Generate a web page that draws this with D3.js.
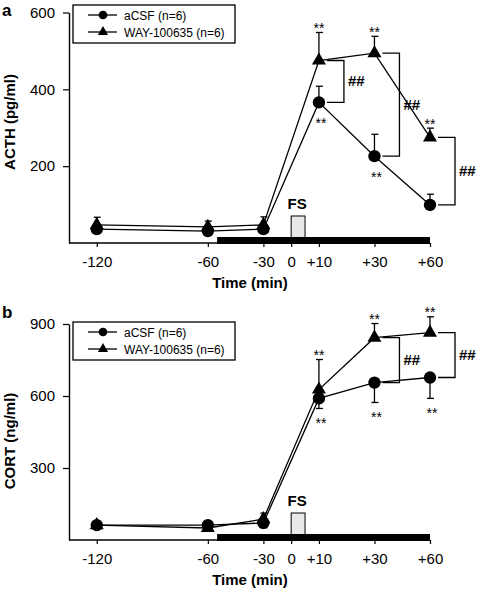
<!DOCTYPE html>
<html><head><meta charset="utf-8">
<script src="https://cdn.jsdelivr.net/npm/d3@7"></script>
<style>
html,body{margin:0;padding:0;background:#fff;}
svg text{font-family:"Liberation Sans",Arial,sans-serif;}
</style></head>
<body>
<svg id="chart" width="480" height="590"></svg>
<script>
// ---------- data ----------
const timepoints = [-120, -60, -30, 10, 30, 60];
const xTickValues = [-120, -60, -30, 0, 10, 30, 60];
const xTickLabels = ["-120", "-60", "-30", "0", "+10", "+30", "+60"];
const seriesNames = ["aCSF (n=6)", "WAY-100635 (n=6)"];

const acthACSF    = [36, 31, 36, 366, 226, 99];
const acthACSFErr = [10, 8, 8, 42, 57, 28];
const acthWAY     = [47, 42, 47, 475, 494, 275];
const acthWAYErr  = [20, 15, 21, 73, 44, 24];
const acthACSFSig = ["", "", "", "**", "**", ""];
const acthWAYSig  = ["", "", "", "**", "**", "**"];
const acthHash    = ["", "", "", "##", "##", "##"];
const acthTicks   = [200, 400, 600];

const cortACSF    = [62, 62, 71, 590, 656, 677];
const cortACSFErr = [10, 8, 20, 42, 83, 87];
const cortWAY     = [62, 50, 87, 627, 843, 864];
const cortWAYErr  = [14, 6, 25, 125, 59, 66];
const cortACSFSig = ["", "", "", "**", "**", "**"];
const cortWAYSig  = ["", "", "", "**", "**", "**"];
const cortHash    = ["", "", "", "", "##", "##"];
const cortTicks   = [300, 600, 900];

const wayStart = -55, wayEnd = 60;   // black infusion bar (min)
const fsStart = 0, fsEnd = 5;        // forced swim (min)

// ---------- layout ----------
const svg = d3.select("#chart");
const plotLeft = 69;
const slotIndex = [0, 4, 6, 7, 8, 10, 12];
const slotW = (430 - plotLeft) / 13;
const x = d3.scaleLinear()
  .domain(xTickValues)
  .range(slotIndex.map(s => plotLeft + (s + 1) * slotW));

function panel(cfg) {
  const g = svg.append("g");
  const y = d3.scaleLinear().domain([0, cfg.yMax]).range([cfg.y0, cfg.yTop]);
  const axisY = cfg.y0;

  // panel letter
  g.append("text").attr("x", 2).attr("y", cfg.letterY).text(cfg.letter)
    .attr("font-size", 17).attr("font-weight", "bold");

  // y axis
  const ya = g.append("g").attr("transform", `translate(${plotLeft},0)`)
    .call(d3.axisLeft(y).tickValues(cfg.ticks).tickSize(6).tickSizeOuter(0).tickPadding(8));
  ya.select(".domain").attr("stroke-width", 1.4);
  ya.selectAll(".tick line").attr("stroke-width", 1.2);
  ya.selectAll("text").attr("font-size", 15).attr("font-family", "Liberation Sans, Arial, sans-serif");

  // x axis
  const xa = g.append("g").attr("transform", `translate(0,${axisY})`)
    .call(d3.axisBottom(x).tickValues(xTickValues).tickFormat((d, i) => xTickLabels[i])
      .tickSize(4).tickSizeOuter(0).tickPadding(9));
  xa.select(".domain").remove();
  xa.selectAll(".tick line").attr("stroke-width", 1.2);
  xa.selectAll("text").attr("font-size", 15).attr("font-family", "Liberation Sans, Arial, sans-serif");
  g.append("line").attr("x1", plotLeft).attr("x2", x(60)).attr("y1", axisY).attr("y2", axisY)
    .attr("stroke", "#000").attr("stroke-width", 1.4);

  // axis titles
  g.append("text").attr("transform", `translate(15,${cfg.yTitleY}) rotate(-90)`)
    .attr("text-anchor", "middle").attr("font-size", 15).attr("font-weight", "bold").text(cfg.yTitle);
  g.append("text").attr("x", 250).attr("y", axisY + 45).attr("text-anchor", "middle")
    .attr("font-size", 15).attr("font-weight", "bold").text("Time (min)");

  // FS box
  g.append("rect").attr("x", x(fsStart)).attr("width", x(fsEnd) - x(fsStart))
    .attr("y", axisY - 27).attr("height", 27)
    .attr("fill", "#e8e8e8").attr("stroke", "#000").attr("stroke-width", 1);
  g.append("text").attr("x", (x(fsStart) + x(fsEnd)) / 2 - 1).attr("y", axisY - 34)
    .attr("text-anchor", "middle").attr("font-size", 15).attr("font-weight", "bold").text("FS");
  // infusion bar
  g.append("rect").attr("x", x(wayStart)).attr("width", x(wayEnd) - x(wayStart))
    .attr("y", axisY - 6).attr("height", 7).attr("fill", "#000");

  const series = [
    {vals: cfg.acsf, err: cfg.acsfErr, dir: cfg.acsfDir, sig: cfg.acsfSig, sym: d3.symbolCircle, size: 120, above: false},
    {vals: cfg.way, err: cfg.wayErr, dir: 1, sig: cfg.waySig, sym: d3.symbolTriangle, size: 85, above: true}
  ];
  const line = d3.line().x((d, i) => x(timepoints[i])).y(d => y(d));
  series.forEach(s => {
    g.append("path").datum(s.vals).attr("d", line).attr("fill", "none")
      .attr("stroke", "#000").attr("stroke-width", 1.3);
  });
  series.forEach(s => {
    s.vals.forEach((v, i) => {
      const cx = x(timepoints[i]);
      const ye = y(v + s.dir * s.err[i]);
      g.append("line").attr("x1", cx).attr("x2", cx).attr("y1", y(v)).attr("y2", ye)
        .attr("stroke", "#000").attr("stroke-width", 1.3);
      g.append("line").attr("x1", cx - 3).attr("x2", cx + 4).attr("y1", ye).attr("y2", ye)
        .attr("stroke", "#000").attr("stroke-width", 1.3);
    });
  });
  series.forEach(s => {
    g.selectAll(null).data(s.vals).enter().append("path")
      .attr("d", d3.symbol().type(s.sym).size(s.size))
      .attr("transform", (d, i) => `translate(${x(timepoints[i])},${y(d)})`)
      .attr("fill", "#000");
  });
  // significance stars
  series.forEach(s => {
    s.vals.forEach((v, i) => {
      if (!s.sig[i]) return;
      const cx = x(timepoints[i]);
      let by;
      if (s.above) {
        by = y(v + s.err[i]) + 0.5;
      } else {
        const low = Math.max(y(v) + 6, s.dir < 0 ? y(v - s.err[i]) : 0);
        by = low + 20;
      }
      g.append("text").attr("x", cx + (s.above ? 0 : 2)).attr("y", by).attr("text-anchor", "middle")
        .attr("font-size", 14).text(s.sig[i]);
    });
  });
  // ## brackets
  cfg.hash.forEach((h, i) => {
    if (!h) return;
    const cx = x(timepoints[i]);
    const y1 = y(cfg.way[i]), y2 = y(cfg.acsf[i]);
    const x1 = cx + 8, x2 = cx + 25;
    g.append("path").attr("d", `M${x1},${y1}H${x2}V${y2}H${x1}`)
      .attr("fill", "none").attr("stroke", "#000").attr("stroke-width", 1.3);
    g.append("text").attr("x", x2 + 4).attr("y", (y1 + y2) / 2 + 5)
      .attr("font-size", 15).attr("font-weight", "bold").text(h);
  });

  // legend
  const lg = g.append("g");
  lg.append("rect").attr("x", 73).attr("y", cfg.legendY).attr("width", 162).attr("height", 38)
    .attr("fill", "#fff").attr("stroke", "#000").attr("stroke-width", 1.3);
  [d3.symbolCircle, d3.symbolTriangle].forEach((sym, k) => {
    const ly = cfg.legendY + 10 + k * 17;
    lg.append("line").attr("x1", 88).attr("x2", 117).attr("y1", ly).attr("y2", ly)
      .attr("stroke", "#000").attr("stroke-width", 1.3);
    lg.append("path").attr("d", d3.symbol().type(sym).size(k === 0 ? 60 : 45)())
      .attr("transform", `translate(103,${ly})`).attr("fill", "#000");
    lg.append("text").attr("x", 124).attr("y", ly + 4.5).attr("font-size", 12).text(seriesNames[k]);
  });
}

panel({letter: "a", letterY: 16, yMax: 600, y0: 243, yTop: 12.5, ticks: acthTicks,
  yTitle: "ACTH (pg/ml)", yTitleY: 122, legendY: 5,
  acsf: acthACSF, acsfErr: acthACSFErr, acsfDir: 1, acsfSig: acthACSFSig,
  way: acthWAY, wayErr: acthWAYErr, waySig: acthWAYSig, hash: acthHash});
panel({letter: "b", letterY: 318, yMax: 900, y0: 540, yTop: 324, ticks: cortTicks,
  yTitle: "CORT (ng/ml)", yTitleY: 441, legendY: 322,
  acsf: cortACSF, acsfErr: cortACSFErr, acsfDir: -1, acsfSig: cortACSFSig,
  way: cortWAY, wayErr: cortWAYErr, waySig: cortWAYSig, hash: cortHash});
</script>
</body></html>
